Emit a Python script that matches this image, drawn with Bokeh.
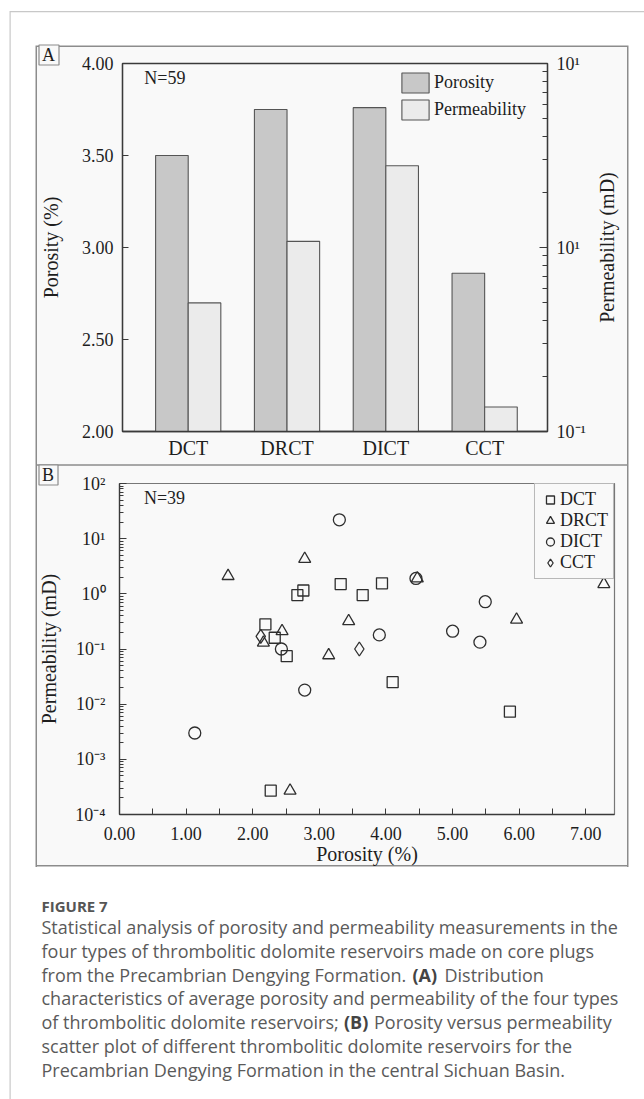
import math
from bokeh.plotting import figure
from bokeh.models import (Range1d, LogAxis, LogScale, FixedTicker, CustomJSTickFormatter,
                          PrintfTickFormatter, Label, Title)
from bokeh.layouts import column, row
from bokeh.embed import file_html
from bokeh.resources import INLINE
from bokeh.core.properties import value

# ---------------- data ----------------
categories = ["DCT", "DRCT", "DICT", "CCT"]
porosity_mean = [3.50, 3.75, 3.76, 2.86]          # %
permeability_mean = [0.50, 1.08, 2.78, 0.136]     # mD (log axis)
porosity_ticks = [2.0, 2.5, 3.0, 3.5, 4.0]
perm_exps_a = [-1, 0, 1]
perm_labels_a = ["10\u207b\u00b9", "10\u00b9", "10\u00b9"]

dct_por = [2.19, 2.27, 2.33, 2.51, 2.67, 2.76, 3.32, 3.65, 3.94, 4.10, 5.86]
dct_perm = [0.28, 0.00027, 0.16, 0.074, 0.95, 1.15, 1.50, 0.95, 1.55, 0.025, 0.0073]
drct_por = [1.63, 2.16, 2.44, 2.56, 2.78, 3.14, 3.44, 4.47, 5.96, 7.27]
drct_perm = [2.1, 0.13, 0.21, 0.00027, 4.3, 0.077, 0.32, 1.9, 0.34, 1.5]
dict_por = [1.13, 2.43, 2.78, 3.30, 3.90, 4.45, 5.00, 5.41, 5.49]
dict_perm = [0.003, 0.10, 0.018, 22.0, 0.18, 1.9, 0.21, 0.133, 0.72]
cct_por = [2.12, 3.60]
cct_perm = [0.17, 0.10]

x_ticks_b = [0, 1, 2, 3, 4, 5, 6, 7]
perm_exps_b = [-4, -3, -2, -1, 0, 1, 2]
perm_labels_b = ["10\u207b\u2074", "10\u207b\u00b3", "10\u207b\u00b2", "10\u207b\u00b9",
                 "10\u2070", "10\u00b9", "10\u00b2"]

caption_title = "FIGURE 7"
caption_lines = [
    "Statistical analysis of porosity and permeability measurements in the",
    "four types of thrombolitic dolomite reservoirs made on core plugs",
    ["from the Precambrian Dengying Formation.", "(A)", "Distribution"],
    "characteristics of average porosity and permeability of the four types",
    ["of thrombolitic dolomite reservoirs;", "(B)", "Porosity versus permeability"],
    "scatter plot of different thrombolitic dolomite reservoirs for the",
    "Precambrian Dengying Formation in the central Sichuan Basin.",
]

# ---------------- style ----------------
SERIF = "Liberation Serif"
SANS = "Open Sans"
BG = "#f9f9f9"
AXIS = "#3a3a3a"
TXT = "#1e1e1e"
PANEL = "#8c8c8c"
FRAME = "#c8c8c8"
W = 644

EXP_CODE = """
const e = Math.round(Math.log10(tick));
const i = exps.indexOf(e);
return i >= 0 ? labels[i] : "";
"""


def style_axis(ax, tick_in=6, minor_in=0, standoff=8, label_standoff=10,
               tick_size="18px", label_size="20px"):
    ax.axis_line_color = AXIS
    ax.axis_line_width = 1.3
    ax.major_tick_line_color = AXIS
    ax.minor_tick_line_color = AXIS
    ax.major_tick_in = tick_in
    ax.major_tick_out = 0
    ax.minor_tick_in = minor_in
    ax.minor_tick_out = 0
    ax.major_label_standoff = standoff
    ax.major_label_text_font = SERIF
    ax.major_label_text_font_size = tick_size
    ax.major_label_text_color = TXT
    ax.axis_label_text_font = SERIF
    ax.axis_label_text_font_size = label_size
    ax.axis_label_text_font_style = "normal"
    ax.axis_label_text_color = TXT
    ax.axis_label_standoff = label_standoff


def no_align(p):
    if "frame_align" in p.properties():
        p.frame_align = False


def try_set(obj, name, val):
    try:
        setattr(obj, name, val)
        return True
    except Exception:
        return False


def letter_title(p, letter, offset):
    t = Title(text=letter, align="left", offset=offset, vertical_align="bottom",
              text_font=SERIF, text_font_size="18px", text_font_style="normal",
              text_color=TXT, border_line_color=PANEL, border_line_width=1.2,
              background_fill_color=BG, background_fill_alpha=1.0)
    if not try_set(t, "standoff", -3):
        try_set(t, "standoff", 0)
    if not try_set(t, "padding", dict(left=3, right=4, top=0, bottom=0)):
        try_set(t, "padding", 3)
    p.add_layout(t, "above")


def shadows(parts):
    return ", ".join(parts)


# ---------------- panel A ----------------
HA = 461
WA = 596
pA = figure(width=WA, height=HA, x_range=Range1d(0.335, 4.636), y_range=Range1d(2.0, 4.0),
            min_border_left=122, min_border_right=WA - 547, min_border_top=63, min_border_bottom=30,
            output_backend="svg", toolbar_location=None, tools="",
            background_fill_color=BG, border_fill_color=None,
            outline_line_color=AXIS, outline_line_width=1.3)
no_align(pA)
pA.styles = {
    "background-color": BG,
    "box-shadow": shadows([
        "inset 0 11px 0 0 #ffffff",
        "inset 9.5px 0 0 0 #ffffff",
        f"inset 0 12.2px 0 0 {FRAME}",
        f"inset 10.7px 0 0 0 {FRAME}",
        "inset 0 45.5px 0 0 #ffffff",
        "inset 35.5px 0 0 0 #ffffff",
        f"inset 0 47px 0 0 {PANEL}",
        f"inset 37px 0 0 0 {PANEL}",
    ]),
}
pA.xgrid.visible = False
pA.ygrid.visible = False
pA.extra_y_ranges = {"perm": Range1d(0.1, 10.0)}
pA.extra_y_scales = {"perm": LogScale()}

xs = [i + 1 for i in range(len(categories))]
pA.vbar(x=[x - 0.165 for x in xs], top=porosity_mean, bottom=2.0, width=0.33,
        fill_color="#c8c8c8", line_color="#555555", line_width=1.1, legend_label="Porosity")
pA.vbar(x=[x + 0.165 for x in xs], top=permeability_mean, bottom=0.1, width=0.33,
        fill_color="#ebebeb", line_color="#555555", line_width=1.1,
        y_range_name="perm", legend_label="Permeability")

axA = pA.xaxis[0]
axA.ticker = FixedTicker(ticks=xs)
axA.major_label_overrides = {x: c for x, c in zip(xs, categories)}
style_axis(axA, tick_in=0, standoff=5, tick_size="20px")

ayA = pA.yaxis[0]
ayA.ticker = FixedTicker(ticks=porosity_ticks)
ayA.formatter = PrintfTickFormatter(format="%.2f")
ayA.axis_label = "Porosity (%)"
style_axis(ayA, tick_in=6, standoff=9, label_standoff=17)

arA = LogAxis(y_range_name="perm",
              ticker=FixedTicker(ticks=[10.0 ** e for e in perm_exps_a],
                                 minor_ticks=[m * 10.0 ** e for e in (-1, 0) for m in range(2, 10)]),
              formatter=CustomJSTickFormatter(args=dict(exps=perm_exps_a, labels=perm_labels_a),
                                              code=EXP_CODE))
style_axis(arA, tick_in=8, minor_in=5, standoff=9)
pA.add_layout(arA, "right")

legA = pA.legend[0]
legA.location = (276, 309)
legA.margin = 0
legA.padding = 0
legA.spacing = 2
legA.glyph_width = 34
legA.glyph_height = 25
legA.label_height = 25
legA.label_standoff = 2
legA.label_text_font = SERIF
legA.label_text_font_size = "18px"
legA.label_text_color = TXT
legA.border_line_color = None
legA.background_fill_alpha = 0

pA.add_layout(Label(x=0.555, y=3.92, text="N=59", text_font=SERIF, text_font_size="18px",
                    text_color=TXT, text_baseline="middle"))
letter_title(pA, "A", 38.5 - 122)

# right-hand strip of panel A: title of the permeability axis, reading bottom-to-top
WR = W - WA
pAR = figure(width=WR, height=HA, x_range=Range1d(0, WR), y_range=Range1d(HA, 0),
             x_axis_location=None, y_axis_location=None, min_border=0,
             output_backend="svg", toolbar_location=None, tools="",
             background_fill_color=None, border_fill_color=None, outline_line_color=None)
no_align(pAR)
pAR.grid.visible = False
pAR.styles = {
    "background-color": BG,
    "box-shadow": shadows([
        "inset 0 11px 0 0 #ffffff",
        f"inset 0 12.2px 0 0 {FRAME}",
        f"inset -{WR - 628.5 + WA}px 0 0 0 #ffffff",
        "inset 0 45.5px 0 0 #ffffff",
        f"inset 0 47px 0 0 {PANEL}",
        f"inset -{W - 627}px 0 0 0 {PANEL}",
    ]),
}
pAR.text(x=[606 - WA], y=[247], text=["Permeability (mD)"], angle=math.pi / 2,
         text_font=value(SERIF), text_font_size="20px", text_color=TXT,
         text_align="center", text_baseline="middle")

# ---------------- panel B ----------------
HB = 406
pB = figure(width=W, height=HB, x_range=Range1d(0, 7.43), y_range=Range1d(1e-4, 1e2),
            y_axis_type="log",
            min_border_left=119, min_border_right=30, min_border_top=22, min_border_bottom=51,
            output_backend="svg", toolbar_location=None, tools="",
            background_fill_color=BG, border_fill_color=None,
            outline_line_color="#777777", outline_line_width=1.2)
no_align(pB)
pB.styles = {
    "background-color": BG,
    "box-shadow": shadows([
        "inset 9.5px 0 0 0 #ffffff",
        f"inset 10.7px 0 0 0 {FRAME}",
        "inset 35.5px 0 0 0 #ffffff",
        "inset -15.5px 0 0 0 #ffffff",
        f"inset 37px 0 0 0 {PANEL}",
        f"inset -17px 0 0 0 {PANEL}",
        f"inset 0 3.3px 0 0 {BG}",
        f"inset 0 4.7px 0 0 {PANEL}",
        "inset 0 -0.5px 0 0 #ffffff",
        f"inset 0 -2px 0 0 {PANEL}",
    ]),
}
pB.xgrid.visible = False
pB.ygrid.visible = False

mk = dict(fill_color=None, line_color="#2e2e2e", line_width=1.3)
pB.scatter(dct_por, dct_perm, marker="square", size=11, legend_label="DCT", **mk)
pB.scatter(drct_por, drct_perm, marker="triangle", size=12, legend_label="DRCT", **mk)
pB.scatter(dict_por, dict_perm, marker="circle", size=12, legend_label="DICT", **mk)
pB.scatter(cct_por, cct_perm, marker="diamond", size=14, legend_label="CCT", **mk)

axB = pB.xaxis[0]
axB.ticker = FixedTicker(ticks=x_ticks_b, minor_ticks=[t + 0.5 for t in x_ticks_b])
axB.formatter = PrintfTickFormatter(format="%.2f")
axB.axis_label = "Porosity (%)"
style_axis(axB, tick_in=6, minor_in=6, standoff=12, label_standoff=0)

ayB = pB.yaxis[0]
ayB.ticker = FixedTicker(ticks=[10.0 ** e for e in perm_exps_b],
                         minor_ticks=[m * 10.0 ** e for e in perm_exps_b[:-1] for m in range(2, 10)])
ayB.formatter = CustomJSTickFormatter(args=dict(exps=perm_exps_b, labels=perm_labels_b),
                                      code=EXP_CODE)
ayB.axis_label = "Permeability (mD)"
style_axis(ayB, tick_in=7, minor_in=4, standoff=14, label_standoff=12)

legB = pB.legend[0]
legB.location = "top_right"
legB.margin = 0
legB.padding = 5
legB.spacing = 0
legB.glyph_width = 20
legB.glyph_height = 21
legB.label_height = 21
legB.label_standoff = 0
legB.label_text_font = SERIF
legB.label_text_font_size = "18px"
legB.label_text_color = TXT
legB.border_line_color = "#777777"
legB.border_line_width = 1.2
legB.background_fill_color = BG
legB.background_fill_alpha = 1.0

pB.add_layout(Label(x=0.366, y=55, text="N=39", text_font=SERIF, text_font_size="18px",
                    text_color=TXT, text_baseline="middle"))
letter_title(pB, "B", 38.5 - 119)

# ---------------- caption ----------------
HC = 232
pC = figure(width=W, height=HC, x_range=Range1d(0, W), y_range=Range1d(HC, 0),
            x_axis_location=None, y_axis_location=None,
            min_border=0, output_backend="svg", toolbar_location=None, tools="",
            background_fill_color=None, border_fill_color=None, outline_line_color=None)
no_align(pC)
pC.styles = {
    "background-color": "#ffffff",
    "box-shadow": shadows(["inset 9.5px 0 0 0 #ffffff", f"inset 10.7px 0 0 0 {FRAME}"]),
}
pC.grid.visible = False

CAP_X = 41
pC.text(x=[CAP_X], y=[38], text=[caption_title], text_font=value(SANS), text_font_size="15px",
        text_font_style="bold", text_color="#555555", text_baseline="middle")
line_y = [59, 83, 107, 130.7, 154.7, 178.3, 202.3]
part_x = {2: [CAP_X, 412, 444], 4: [CAP_X, 343.5, 373.5]}
for i, ln in enumerate(caption_lines):
    if isinstance(ln, list):
        for j, part in enumerate(ln):
            pC.text(x=[part_x[i][j]], y=[line_y[i]], text=[part], text_font=value(SANS),
                    text_font_size="18px", text_font_style="bold" if j == 1 else "normal",
                    text_color="#444444" if j == 1 else "#5a5a5a", text_baseline="middle")
    else:
        pC.text(x=[CAP_X], y=[line_y[i]], text=[ln], text_font=value(SANS), text_font_size="18px",
                text_color="#5a5a5a", text_baseline="middle")

layout = column(row(pA, pAR, spacing=0), pB, pC, spacing=0)
open("out.html", "w").write(file_html(layout, INLINE))
